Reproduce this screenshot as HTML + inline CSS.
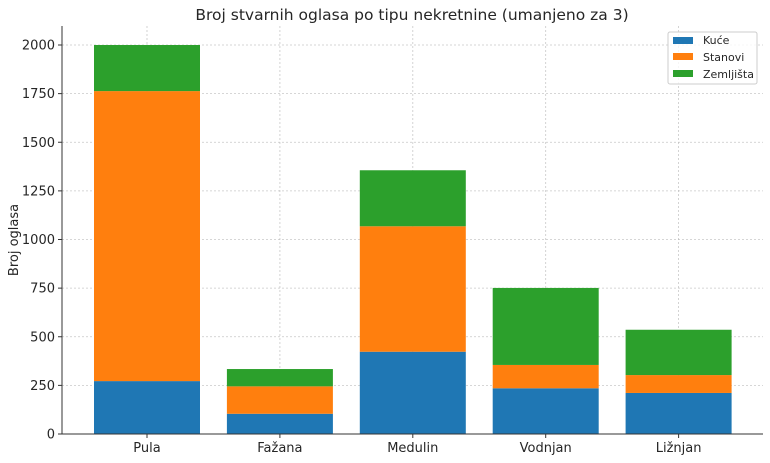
<!DOCTYPE html>
<html><head><meta charset="utf-8"><style>
body{margin:0;background:#fff;font-family:"DejaVu Sans","Liberation Sans",sans-serif;}
svg text{font-family:"DejaVu Sans","Liberation Sans",sans-serif;fill:#262626;}
</style></head><body>
<svg id="chart" width="770" height="459">
<text x="412" y="20" font-size="15.5" text-anchor="middle">Broj stvarnih oglasa po tipu nekretnine (umanjeno za 3)</text>
<text transform="translate(18,240) rotate(-90)" font-size="13" text-anchor="middle">Broj oglasa</text>
<g id="grid"></g><g id="bars"></g><g id="axes"></g>
<g>
<rect x="668" y="32" width="89" height="52" fill="#fff" fill-opacity="0.8" stroke="#ccc" rx="2"/>
<rect x="673" y="37" width="20" height="7" fill="#1f77b4"/>
<text x="703" y="44" font-size="11">Kuće</text>
<rect x="673" y="53" width="20" height="7" fill="#ff7f0e"/>
<text x="703" y="61" font-size="11">Stanovi</text>
<rect x="673" y="70" width="20" height="7" fill="#2ca02c"/>
<text x="703" y="78" font-size="11">Zemljišta</text>
</g>
</svg>
<script>
const categories=["Pula","Fažana","Medulin","Vodnjan","Ližnjan"];
const kuce=[272,104,423,235,211];
const stanovi=[1491,141,645,120,92];
const zemljista=[237,89,288,396,233];
const yTicks=[0,250,500,750,1000,1250,1500,1750,2000];
const NS="http://www.w3.org/2000/svg";
const L=62,R=763,T=26,B=434;
const y=v=>B-v*(389/2000);
const x=i=>147+132.9*i;
const bw=106;
function mk(tag,attrs,parent){const e=document.createElementNS(NS,tag);for(const k in attrs)e.setAttribute(k,attrs[k]);parent.appendChild(e);return e;}
const grid=document.getElementById('grid'),bars=document.getElementById('bars'),axes=document.getElementById('axes');
yTicks.forEach(t=>{
  const g=mk('line',{x1:L,x2:R,y1:y(t),y2:y(t),stroke:'#b0b0b0','stroke-width':0.8,'stroke-dasharray':'2,2','stroke-opacity':0.7},grid);
  
  
  const tk=mk('line',{x1:L-4,x2:L,y1:y(t),y2:y(t),stroke:'#333'},axes);
  
  
  const tx=mk('text',{x:L-7,y:y(t)+4.5,'font-size':13,'text-anchor':'end'},axes);
  tx.textContent=t;
  
  
});
categories.forEach((c,i)=>{
  const g=mk('line',{x1:x(i),x2:x(i),y1:T,y2:B,stroke:'#b0b0b0','stroke-width':0.8,'stroke-dasharray':'2,2','stroke-opacity':0.7},grid);
  
  
  const series=[[kuce,'#1f77b4','kuce'],[stanovi,'#ff7f0e','stanovi'],[zemljista,'#2ca02c','zemljista']];
  let base=0;
  series.forEach(([arr,col,nm])=>{
    const v=arr[i];
    const r=mk('rect',{x:x(i)-bw/2,y:y(base+v),width:bw,height:y(base)-y(base+v),fill:col},bars);
    
    
    base+=v;
  });
  const tk=mk('line',{x1:x(i),x2:x(i),y1:B,y2:B+4,stroke:'#333'},axes);
  
  
  const tx=mk('text',{x:x(i),y:B+18,'font-size':13,'text-anchor':'middle'},axes);
  tx.textContent=c;
  
  
});
const ax=mk('line',{x1:L,x2:L,y1:T,y2:B,stroke:'#333','stroke-width':1},axes);


const bx=mk('line',{x1:L,x2:R,y1:B,y2:B,stroke:'#333','stroke-width':1},axes);


</script>
</body></html>
